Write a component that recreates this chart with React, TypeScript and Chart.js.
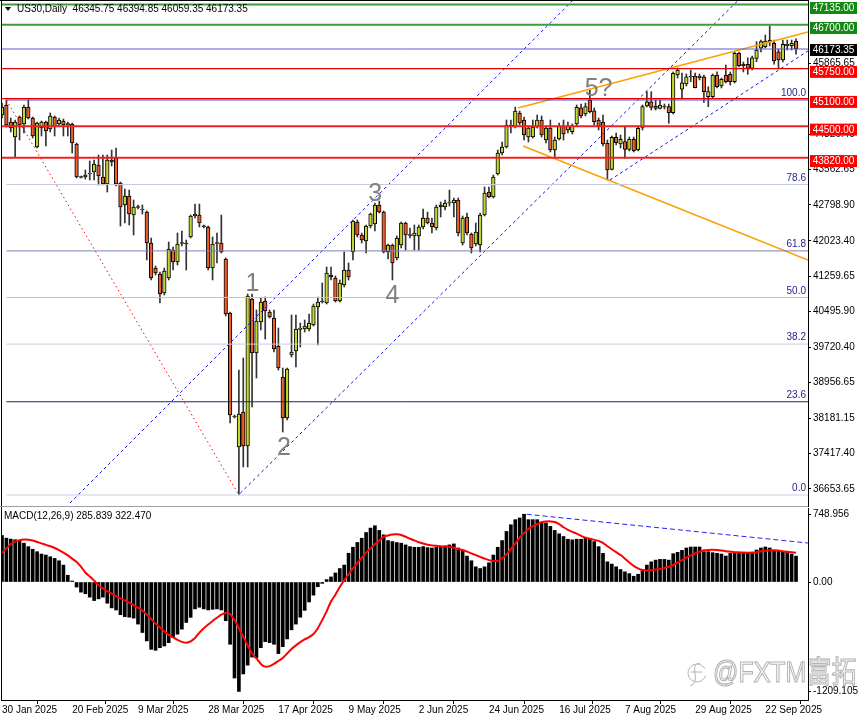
import React, { useEffect, useRef } from 'react';
import { Chart, registerables } from 'chart.js';
Chart.register(...registerables);

const FONT = "'Liberation Sans', Arial, sans-serif";

// ---------- price data (daily US30) ----------
const opens = [44745,44962,44594,44269,44702,44551,44918,44680,44053,44464,
 44594,44442,44702,44551,44616,44529,44551,44118,43404,43404,
 43469,43512,43663,43404,43252,43772,43815,43274,42798,42993,
 42581,42754,42690,42646,41975,41434,41305,40893,41218,41824,
 41564,41975,41975,42105,42560,42581,42343,42322,41434,41975,
 41975,41629,40461,38232,37561,38318,37583,40764,39595,40266,
 40720,40482,40352,39747,39076,38188,39552,39638,40103,40114,
 40114,40201,40591,40720,40677,41283,41218,40720,41067,41391,
 41781,42430,42149,42019,42343,42387,42798,42646,41781,41932,
 41651,41932,42408,42149,42127,42127,42322,42516,42408,42300,
 42798,42754,42841,42841,42906,41975,42538,42170,41954,41932,
 42581,43079,42971,43469,43923,44053,44529,44486,44789,44637,
 44269,44269,44486,44637,44204,44464,43988,44226,44507,44421,
 44384,44551,44903,44767,45070,44838,44637,44594,44133,43570,
 44263,44118,44168,44003,44220,43988,44479,44940,45033,44940,
 44890,44925,44925,44795,45611,45302,45416,45589,45589,45589,
 45574,45141,45141,45611,45373,45611,45626,45466,46081,45843,
 45843,45756,45972,46189,46223,46368,46297,46115,45936,46245,
 46245,46345.75];
const highs = [45005,45070,44680,44637,44724,44962,45070,44702,44594,44616,
 44616,44789,44724,44680,44659,44594,44572,44140,43425,43555,
 43750,43772,43880,43880,43880,43988,44031,43295,43144,43122,
 42906,42798,42798,42668,42084,41478,41348,41434,41997,41889,
 42192,42235,42040,42581,42819,42819,42365,42343,42105,42192,
 42581,41651,40482,38253,39227,39487,40872,40872,40526,40785,
 40807,40526,40526,40136,39270,39270,40417,40417,40244,40309,
 40439,40655,40807,41110,41456,41456,41261,41175,41781,41543,
 42473,42473,42192,42365,42625,42841,42884,42668,41954,41954,
 42127,42430,42430,42300,42365,42365,42711,42646,42516,42798,
 42863,42906,43122,42949,42949,42560,42625,42192,42408,42625,
 43187,43187,43447,43988,44161,44637,44637,44918,44832,44702,
 44486,44637,44745,44724,44507,44637,44269,44572,44637,44594,
 44551,44962,44983,45005,45286,44897,44680,44745,44204,44291,
 44356,44313,44507,44269,44269,44507,44962,45250,45250,45070,
 45070,44983,44983,45676,45762,45654,45633,45719,45654,45633,
 45611,45358,45633,45682,45546,45827,45676,46109,46109,45892,
 45985,46022,46332,46368,46477,46678,46368,46174,46368,46368,
 46368,46394.85];
const lows = [44680,44486,44377,43836,44204,44356,44659,44248,44031,44291,
 44075,44377,44291,44507,44291,44291,43923,43382,43382,43360,
 43339,43339,43231,43231,43079,43642,43209,42343,42408,42365,
 42149,42711,42603,41608,41175,41283,40677,40850,41175,41391,
 41499,41911,41391,42084,42516,42322,42300,41391,41175,41543,
 41759,40396,38080,38188,36522,37128,37128,38427,39054,40093,
 39898,40352,39617,39227,37885,38145,39508,39292,39725,40050,
 40071,40179,39768,40677,40655,41175,40699,40699,41023,41175,
 41608,42105,41975,41759,42300,42235,42625,41759,41629,41175,
 41608,41867,41824,42084,41824,41824,42278,42387,42192,42257,
 42538,42690,42776,42538,42127,41932,42149,41759,41911,41781,
 42560,42949,42949,43447,43880,44031,44356,44464,44529,44204,
 44161,44248,44464,44269,44140,43945,43815,44204,44204,44356,
 44334,44507,44680,44724,44789,44529,44421,44075,43339,43555,
 44096,44031,43808,43966,43945,43966,44421,44918,44854,44854,
 44875,44875,44566,44767,45546,45092,45373,45466,45330,45503,
 45020,44925,45113,45330,45330,45438,45395,45438,45784,45676,
 45626,45719,45899,46109,46195,46239,45843,45769,45892,46152,
 46152,46059.35];
const closes = [44918,44529,44464,44594,44529,44918,44680,44291,44572,44594,
 44399,44724,44486,44637,44529,44561,44140,43404,43393,43447,
 43490,43685,43425,43252,43772,43728,43252,42754,42993,42603,
 42754,42744,42711,41975,41218,41326,40872,41370,41846,41564,
 41954,41965,41954,42560,42603,42408,42328,41434,41954,41965,
 41781,40439,38253,38210,38275,37583,40829,39595,40288,40699,
 40504,40374,39682,39270,38188,39249,39617,40114,40136,40179,
 40244,40612,40699,40699,41326,41240,40720,41110,41391,41240,
 42452,42149,42040,42343,42603,42798,42646,41781,41932,41543,
 42084,42408,42149,42138,42192,42322,42516,42408,42322,42754,
 42754,42841,42852,42906,42192,42516,42192,41867,42213,42581,
 43058,42971,43404,43923,44053,44529,44507,44832,44572,44313,
 44464,44486,44637,44313,44464,43988,44204,44507,44334,44507,
 44507,44912,44724,44925,44817,44600,44507,44118,43555,44263,
 44146,44220,44003,44220,43973,44458,44925,45033,44912,44890,
 44962,44918,44795,45648,45719,45444,45574,45568,45336,45553,
 45250,45250,45611,45358,45518,45466,45466,46081,45812,45812,
 45756,45985,46152,46332,46347,46319,45914,45936,46275,46275,
 46297,46173.35];

// ---------- MACD(12,26,9) ----------
const macdMain = [514,485,474,467,460,429,391,362,335,309,
 298,279,261,235,187,75,11,-56,-112,-130,
 -167,-205,-186,-167,-234,-286,-309,-361,-383,-389,
 -399,-465,-558,-651,-744,-755,-726,-707,-670,-614,
 -577,-521,-447,-391,-297,-279,-297,-309,-302,-297,
 -309,-428,-688,-1061,-1209.105,-1016,-919,-830,-838,-726,
 -659,-670,-688,-791,-715,-629,-529,-465,-389,-313,
 -220,-145,-52,-15,27,56,100,149,187,318,
 385,437,484,547,596,622,570,521,458,447,
 436,429,410,391,384,384,391,380,376,384,
 391,399,410,421,376,354,287,235,168,149,
 168,212,298,384,458,559,633,689,708,748.956,
 689,689,689,663,652,615,570,533,503,473,
 466,473,473,484,473,447,391,317,223,198,
 168,138,112,93,64,86,138,187,223,242,
 250,250,242,313,328,350,376,387,387,387,
 335,335,324,317,309,287,317,317,317,317,
 317,324,354,376,387,376,350,350,335,335,
 309,285.839];
const macdSignal = [321,370,420,447,462,469,468,458,443,427,
 410,395,376,352,326,295,258,222,170,105,
 60,15,-35,-70,-100,-128,-155,-180,-203,-228,
 -255,-285,-315,-360,-410,-460,-500,-545,-585,-612,
 -640,-662,-670,-655,-618,-560,-510,-470,-430,-395,
 -360,-343,-355,-420,-510,-605,-700,-790,-845,-905,
 -935,-930,-905,-873,-840,-790,-740,-700,-665,-635,
 -610,-575,-510,-420,-325,-215,-140,-55,20,85,
 150,210,270,325,372,418,460,500,515,525,
 527,520,500,478,460,440,425,412,405,400,
 395,392,390,378,364,354,336,316,297,278,
 258,242,232,234,262,305,365,425,490,541,
 585,617,640,660,668,670,663,640,605,577,
 555,535,510,491,478,466,455,432,395,362,
 330,298,258,215,178,150,133,128,130,138,
 145,155,168,188,215,242,268,295,317,335,
 350,355,356,354,348,340,335,330,328,325,
 324,325,330,340,346,350,352,348,340,334,
 328,322.47];

// ---------- axes ----------
const dateTickIdx = [0, 16, 31, 47, 63, 79, 95, 111, 127, 142, 158, 174];
const dateTickLabels = ['30 Jan 2025', '20 Feb 2025', '9 Mar 2025', '28 Mar 2025', '17 Apr 2025', '9 May 2025',
  '2 Jun 2025', '24 Jun 2025', '16 Jul 2025', '7 Aug 2025', '29 Aug 2025', '22 Sep 2025'];
const priceTicks = [36653.65, 37417.40, 38181.15, 38956.65, 39720.40, 40495.90, 41259.65, 42023.40,
  42798.90, 43562.65, 44326.40, 45865.65];
const macdTicks = [748.956, 0, -1209.105];
const macdTickLabels = ['748.956', '0.00', '-1209.105'];

// ---------- drawn objects (data units: bar index, price) ----------
const hLineLevels = [47135, 46700, 46173.35, 45750, 45100, 44500, 43820];
const fibLow = 36522;
const fibHigh = 45070;
const fibPct = [0, 23.6, 38.2, 50, 61.8, 78.6, 100];
const fibStartIdx = 1;
const waveLabels = ['1', '2', '3', '4', '5?'];
const waveIdx = [57.1, 64.3, 85.1, 89.0, 136.0];
const wavePrice = [41077, 37539, 43036, 40818, 45297];
const channelUpper = [[15.5, 36349], [130.2, 47234]];
const channelLower = [[54.3, 36560], [167.9, 47234]];
const wedgeLower = [[138.6, 43339], [183.7, 46130]];
const orangeUpper = [[117.6, 44897], [183.7, 46541]];
const orangeLower = [[118.8, 44075], [183.7, 41608]];
const fibDiagonal = [[1, 45070], [54, 36522]];
const macdDivergence = [[119.6, 748.956], [183.7, 431]];

// ---------- styles / ranges ----------
const X_MIN = -0.228, X_MAX = 183.73;
const Y_MIN = 36284, Y_MAX = 47234;
const M_MIN = -1304, M_MAX = 818;
const hLineColors = ['#3c9c3c', '#3c9c3c', '#5a5ad2', '#e00000', '#e00000', '#f02020', '#f02020'];
const hLineWidths = [2, 2, 1, 1.2, 1.2, 2, 2];
const tagColors = ['#128a12', '#128a12', '#000000', '#ff0000', '#ff0000', '#ff0000', '#ff0000'];
const fibColors = ['#d0d0e4', '#202070', '#c8c8e0', '#c0c0d8', '#8080b0', '#c8c8e0', '#4a4ad0'];
const BULL = '#c5d630';
const BEAR = '#ef5f28';

const idx = opens.map((_, i) => i);
const seg = (pts: number[][]) => pts.map((p) => ({ x: p[0], y: p[1] }));

function lineDs(pts: number[][], color: string, width: number, dash: number[] = []) {
  return {
    type: 'line' as const,
    data: seg(pts),
    borderColor: color,
    borderWidth: width,
    borderDash: dash,
    pointRadius: 0,
    tension: 0,
    order: 0,
  };
}

const mainOverlay = {
  id: 'mainOverlay',
  afterDraw(chart: any) {
    const { ctx, chartArea, scales } = chart;
    const xs = scales.x, ys = scales.y;
    ctx.save();
    ctx.lineWidth = 1;
    ctx.strokeStyle = '#000';
    ctx.beginPath();
    ctx.moveTo(0, 0.5); ctx.lineTo(chartArea.right, 0.5);
    ctx.moveTo(1.5, 0); ctx.lineTo(1.5, chartArea.bottom);
    ctx.stroke();
    ctx.strokeStyle = '#a0a0a0';
    ctx.beginPath(); ctx.moveTo(0, 506.5); ctx.lineTo(chartArea.right, 506.5); ctx.stroke();

    // fibonacci level labels
    ctx.font = `10px ${FONT}`;
    ctx.textAlign = 'right';
    ctx.textBaseline = 'middle';
    ctx.fillStyle = '#1e1e8c';
    fibPct.forEach((p) => {
      const v = fibLow + ((fibHigh - fibLow) * p) / 100;
      ctx.fillText(p.toFixed(1), chartArea.right - 2, ys.getPixelForValue(v) - 6.5);
    });

    // wave count labels
    ctx.font = `25px ${FONT}`;
    ctx.textAlign = 'center';
    ctx.fillStyle = '#808080';
    waveLabels.forEach((t, i) => {
      ctx.fillText(t, xs.getPixelForValue(waveIdx[i]), ys.getPixelForValue(wavePrice[i]));
    });

    // price tags on the axis
    ctx.font = `10px ${FONT}`;
    hLineLevels.forEach((v, i) => {
      const yc = ys.getPixelForValue(v) + (i === 2 ? 1 : 3.3);
      const top = Math.max(2, yc - 6);
      ctx.fillStyle = tagColors[i];
      ctx.fillRect(810, top, 47, 12);
      ctx.fillStyle = '#fff';
      ctx.textAlign = 'center';
      ctx.fillText(v.toFixed(2), 833.5, top + 6.5);
    });

    // header
    const n = opens.length - 1;
    ctx.fillStyle = '#000';
    ctx.beginPath(); ctx.moveTo(5, 7); ctx.lineTo(11, 7); ctx.lineTo(8, 11); ctx.closePath(); ctx.fill();
    ctx.textAlign = 'left';
    ctx.font = `10px ${FONT}`;
    ctx.fillText(`US30,Daily  ${opens[n].toFixed(2)} ${highs[n].toFixed(2)} ${lows[n].toFixed(2)} ${closes[n].toFixed(2)}`, 17, 9.5);
    ctx.restore();
  },
};

const macdOverlay = {
  id: 'macdOverlay',
  beforeDraw(chart: any) {
    const { ctx } = chart;
    // watermark (drawn first so axis labels sit on top)
    ctx.save();
    ctx.strokeStyle = '#b4b4b4';
    ctx.lineWidth = 1;
    ctx.beginPath();
    ctx.arc(697, 166, 9, 0.3, Math.PI * 1.85);
    ctx.stroke();
    ctx.beginPath();
    ctx.moveTo(700, 156); ctx.quadraticCurveTo(693, 156, 695, 166); ctx.quadraticCurveTo(697, 177, 690, 179);
    ctx.moveTo(691, 165); ctx.lineTo(702, 165);
    ctx.stroke();
    ctx.translate(713, 175);
    ctx.scale(1, 1.2);
    ctx.font = `25px 'Liberation Sans', 'Noto Sans CJK SC', sans-serif`;
    ctx.textBaseline = 'alphabetic';
    ctx.strokeText('@FXTM富拓', 0, 0);
    ctx.restore();
  },
  afterDraw(chart: any) {
    const { ctx, chartArea } = chart;
    ctx.save();
    ctx.strokeStyle = '#000';
    ctx.lineWidth = 1;
    ctx.beginPath(); ctx.moveTo(1.5, 0); ctx.lineTo(1.5, chartArea.bottom); ctx.stroke();
    const n = macdMain.length - 1;
    ctx.fillStyle = '#000';
    ctx.font = `10px ${FONT}`;
    ctx.textAlign = 'left';
    ctx.textBaseline = 'middle';
    ctx.fillText(`MACD(12,26,9) ${macdMain[n].toFixed(3)} ${macdSignal[n].toFixed(3)}`, 4, 9.5);
    ctx.restore();
  },
};

export default function App() {
  const mainRef = useRef<HTMLCanvasElement>(null);
  const macdRef = useRef<HTMLCanvasElement>(null);

  useEffect(() => {
    document.body.style.margin = '0';
    document.body.style.background = '#ffffff';
    Chart.defaults.font.family = FONT;
    Chart.defaults.font.size = 10;
    Chart.defaults.color = '#000';

    const hLineSets = hLineLevels.map((v, i) =>
      lineDs([[X_MIN, v], [X_MAX, v]], hLineColors[i], hLineWidths[i]));
    const fibSets = fibPct.map((p, i) => {
      const v = fibLow + ((fibHigh - fibLow) * p) / 100;
      return lineDs([[fibStartIdx, v], [X_MAX, v]], fibColors[i], 1);
    });

    const main = new Chart(mainRef.current!, {
      type: 'bar',
      data: {
        datasets: [
          ...fibSets,
          ...hLineSets,
          lineDs(channelUpper, '#1414e0', 1, [3, 3]),
          lineDs(channelLower, '#1414e0', 1, [3, 3]),
          lineDs(wedgeLower, '#1414e0', 1, [3, 3]),
          lineDs(orangeUpper, '#ffa000', 1.5),
          lineDs(orangeLower, '#ffa000', 1.5),
          lineDs(fibDiagonal, '#ff0000', 1, [1.5, 3]),
          {
            type: 'bar',
            data: idx.map((i) => ({ x: i, y: [lows[i], highs[i]] })),
            backgroundColor: '#333333',
            barThickness: 1,
            grouped: false,
            order: 2,
          },
          {
            type: 'bar',
            data: idx.map((i) => ({ x: i, y: [opens[i], closes[i]] })),
            backgroundColor: idx.map((i) => (closes[i] >= opens[i] ? BULL : BEAR)),
            borderColor: '#000',
            borderWidth: 1,
            borderSkipped: false,
            barThickness: 3.6,
            minBarLength: 1,
            grouped: false,
            order: 1,
          },
        ] as any,
      },
      options: {
        animation: false,
        responsive: false,
        events: [],
        layout: { padding: { left: 1, right: 0, top: 0, bottom: 1 } },
        plugins: { legend: { display: false }, tooltip: { enabled: false } },
        scales: {
          x: { type: 'linear', display: false, min: X_MIN, max: X_MAX, offset: false, bounds: 'data' },
          y: {
            type: 'linear',
            position: 'right',
            min: Y_MIN,
            max: Y_MAX,
            bounds: 'data',
            afterBuildTicks: (s: any) => { s.ticks = priceTicks.map((v) => ({ value: v })); },
            afterFit: (s: any) => { s.width = 56; s.paddingTop = 0; s.paddingBottom = 0; },
            ticks: {
              autoSkip: false,
              padding: 2,
              color: '#000',
              font: { family: FONT, size: 10 },
              callback: (v: any) => Number(v).toFixed(2),
            },
            grid: { drawOnChartArea: false, drawTicks: true, tickLength: 3, tickColor: '#000' },
            border: { display: true, color: '#000', width: 1 },
          },
        },
      } as any,
      plugins: [mainOverlay],
    });

    const macd = new Chart(macdRef.current!, {
      type: 'bar',
      data: {
        datasets: [
          lineDs(macdDivergence, '#2020ff', 1, [5, 3]),
          {
            type: 'line',
            data: idx.map((i) => ({ x: i, y: macdSignal[i] })),
            borderColor: '#ff0000',
            borderWidth: 2,
            pointRadius: 0,
            tension: 0.2,
            order: 1,
          },
          {
            type: 'bar',
            data: idx.map((i) => ({ x: i, y: macdMain[i] })),
            backgroundColor: '#000000',
            barThickness: 3,
            grouped: false,
            order: 2,
          },
        ] as any,
      },
      options: {
        animation: false,
        responsive: false,
        events: [],
        layout: { padding: { left: 1, right: 0, top: 1, bottom: 0 } },
        plugins: { legend: { display: false }, tooltip: { enabled: false } },
        scales: {
          x: {
            type: 'linear',
            min: X_MIN,
            max: X_MAX,
            offset: false,
            bounds: 'data',
            afterBuildTicks: (s: any) => { s.ticks = dateTickIdx.map((v) => ({ value: v })); },
            afterFit: (s: any) => { s.height = 18; s.paddingLeft = 0; s.paddingRight = 0; },
            ticks: {
              autoSkip: false,
              maxRotation: 0,
              minRotation: 0,
              align: 'start',
              padding: 0,
              color: '#000',
              font: { family: FONT, size: 10 },
              callback: (v: any) => {
                const k = dateTickIdx.indexOf(v);
                return k >= 0 ? dateTickLabels[k] : '';
              },
            },
            grid: { drawOnChartArea: false, drawTicks: true, tickLength: 4, tickColor: '#000' },
            border: { display: true, color: '#000', width: 1 },
          },
          y: {
            type: 'linear',
            position: 'right',
            min: M_MIN,
            max: M_MAX,
            bounds: 'data',
            afterBuildTicks: (s: any) => { s.ticks = macdTicks.map((v) => ({ value: v })); },
            afterFit: (s: any) => { s.width = 56; s.paddingTop = 0; s.paddingBottom = 0; },
            ticks: {
              autoSkip: false,
              padding: 2,
              color: '#000',
              font: { family: FONT, size: 10 },
              callback: (v: any) => {
                const k = macdTicks.indexOf(v);
                return k >= 0 ? macdTickLabels[k] : '';
              },
            },
            grid: { drawOnChartArea: false, drawTicks: true, tickLength: 3, tickColor: '#000' },
            border: { display: true, color: '#000', width: 1 },
          },
        },
      } as any,
      plugins: [macdOverlay],
    });

    return () => {
      main.destroy();
      macd.destroy();
    };
  }, []);

  return (
    <div style={{ position: 'relative', width: 864, height: 718, background: '#fff', overflow: 'hidden' }}>
      <canvas ref={mainRef} width={864} height={507} style={{ position: 'absolute', left: 0, top: 0, display: 'block' }} />
      <canvas ref={macdRef} width={864} height={211} style={{ position: 'absolute', left: 0, top: 507, display: 'block' }} />
    </div>
  );
}
